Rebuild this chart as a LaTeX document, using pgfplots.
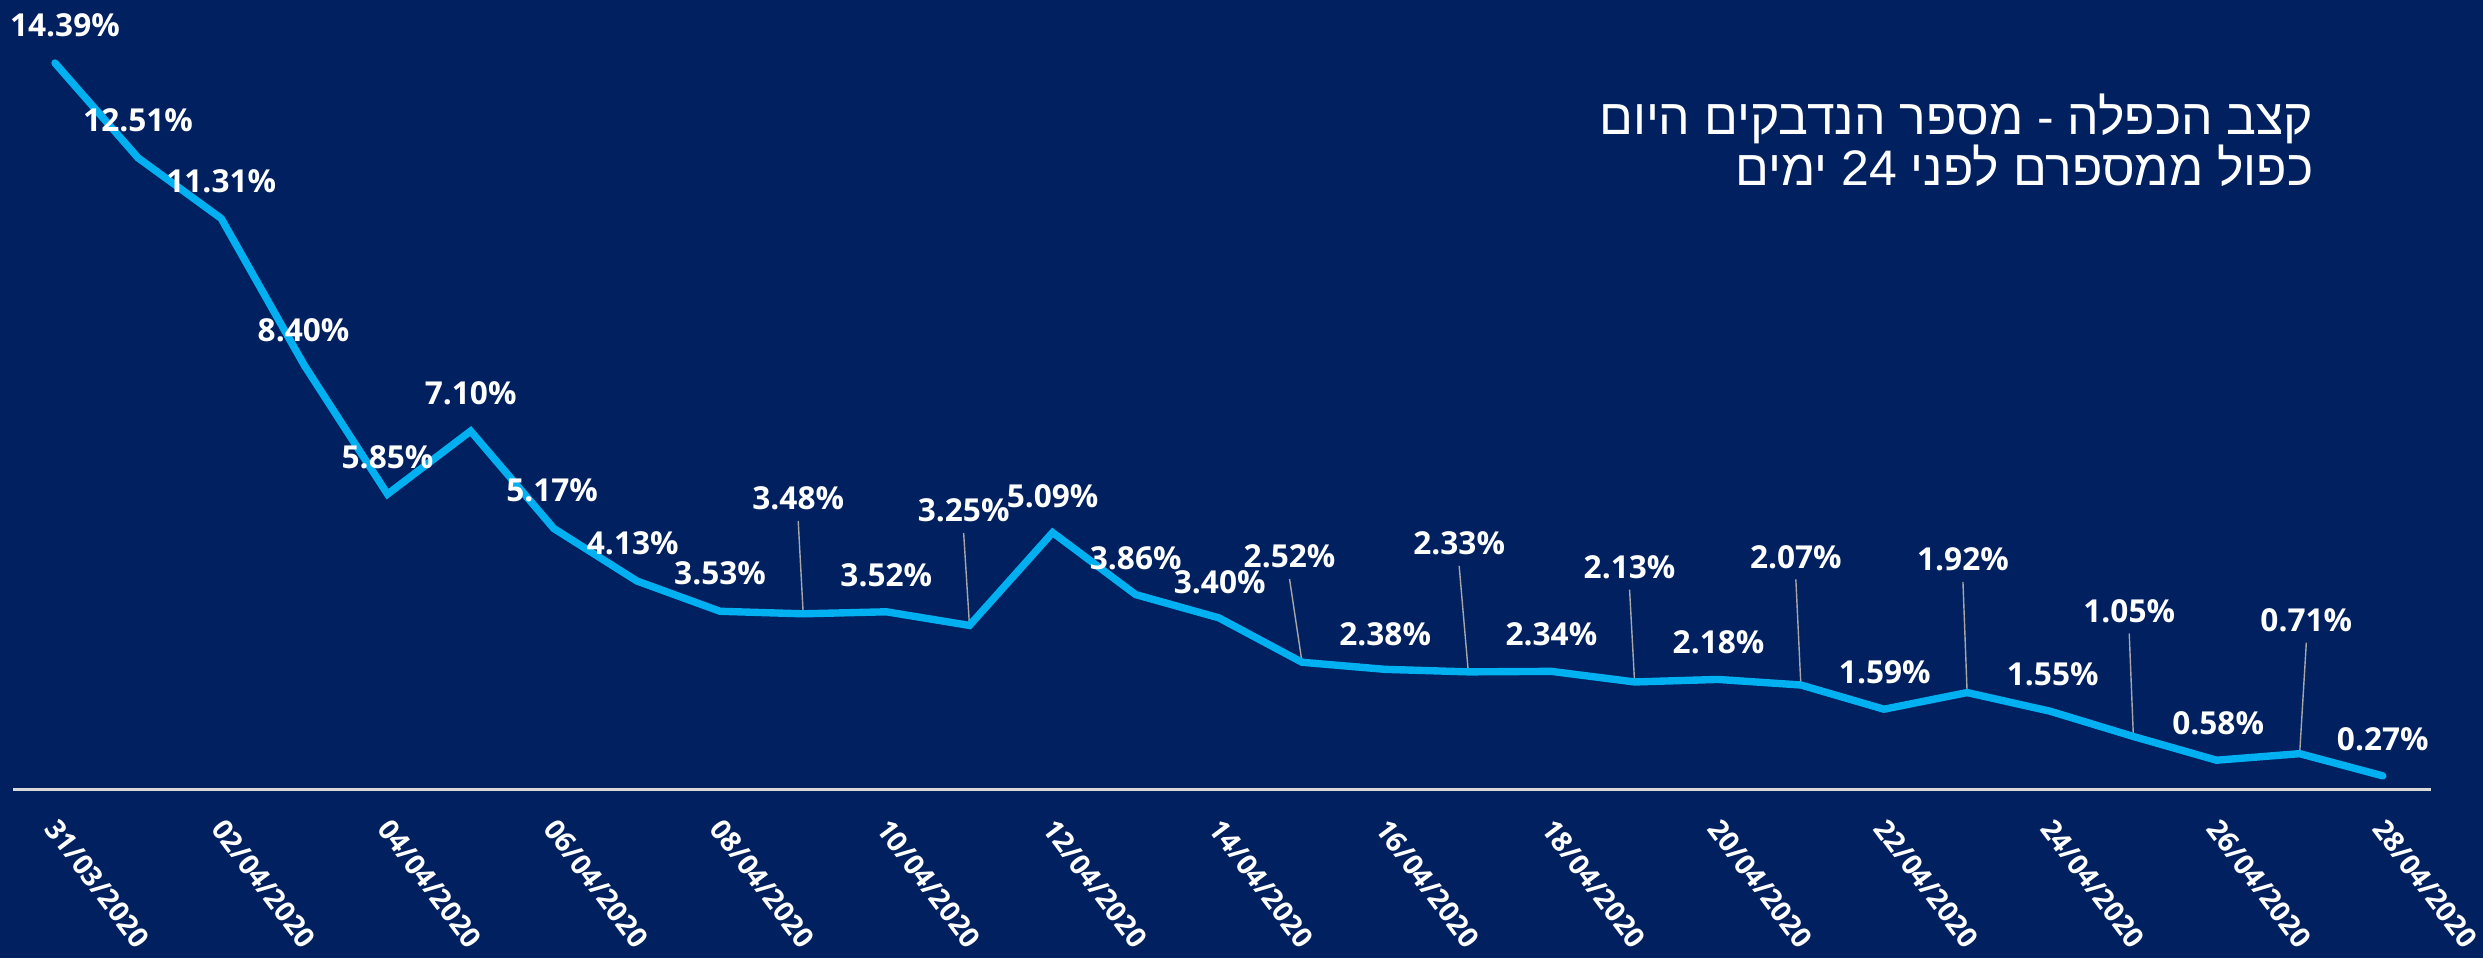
\documentclass[border=0pt]{standalone}
\usepackage{pgfplots}
\pgfplotsset{compat=1.18}
\usepackage{pgfplotstable}
\usepackage{fontspec}
\setmainfont{Open Sans}
\newfontfamily\hebfont[Script=Hebrew]{Liberation Sans}
\TeXXeTstate=1
\definecolor{navy}{HTML}{002060}
\definecolor{lineblue}{HTML}{00B0F0}
\definecolor{axisgray}{HTML}{D9D9D9}
\definecolor{leadgray}{HTML}{A6A6A6}

\pgfplotstableread{
x y lx ly
0 14.39 0.12 15.14
1 12.51 1.00 13.26
2 11.31 2.00 12.05
3 8.40 2.99 9.10
4 5.85 4.00 6.59
5 7.10 5.00 7.84
6 5.17 5.98 5.92
7 4.13 6.95 4.87
8 3.53 8.00 4.29
9 3.48 8.94 5.77
10 3.52 10.00 4.25
11 3.25 10.93 5.53
12 5.09 12.00 5.80
13 3.86 13.00 4.58
14 3.40 14.01 4.10
15 2.52 14.85 4.62
16 2.38 16.00 3.08
17 2.33 16.89 4.88
18 2.34 18.00 3.07
19 2.13 18.94 4.41
20 2.18 20.01 2.92
21 2.07 20.94 4.61
22 1.59 22.01 2.32
23 1.92 22.95 4.56
24 1.55 24.03 2.28
25 1.05 24.95 3.54
26 0.58 26.02 1.32
27 0.71 27.08 3.36
28 0.27 28.00 0.99
}\data

\pgfplotstableread{
x y lx ly
9 3.48 8.94 5.77
11 3.25 10.93 5.53
15 2.52 14.85 4.62
17 2.33 16.89 4.88
19 2.13 18.94 4.41
21 2.07 20.94 4.61
23 1.92 22.95 4.56
25 1.05 24.95 3.54
27 0.71 27.08 3.36
}\leaders

\begin{document}
\begin{tikzpicture}
\path[fill=navy, use as bounding box] (0mm,0mm) rectangle (248.3mm,95.8mm);
\begin{axis}[
  at={(1.34mm,16.85mm)}, anchor=south west,
  scale only axis, width=241.76mm, height=75.73mm,
  xmin=-0.5, xmax=28.58, ymin=0, ymax=15,
  clip=false,
  axis y line=none,
  axis x line*=bottom,
  x axis line style={-, draw=axisgray, line width=0.7pt},
  xtick={0,2,...,28},
  xticklabels={31/03/2020,02/04/2020,04/04/2020,06/04/2020,08/04/2020,10/04/2020,12/04/2020,14/04/2020,16/04/2020,18/04/2020,20/04/2020,22/04/2020,24/04/2020,26/04/2020,28/04/2020},
  major tick length=0pt,
  xticklabel style={yshift=-7.5pt, xshift=1.5pt, rotate=-53, anchor=north west, inner sep=0pt, text=white, font=\bfseries\fontsize{8}{9}\selectfont},
  ytick=\empty,
  /pgf/number format/assume math mode=true,
]
\addplot[leadgray, line width=0.4pt, -, quiver={u=\thisrow{lx}-\thisrow{x}, v=\thisrow{ly}-0.45-\thisrow{y}}] table[x=x, y=y] {\leaders};
\addplot[lineblue, line width=2.1pt, line cap=round, line join=miter] table[x=x, y=y] {\data};
\addplot[draw=none, mark=none, point meta=\thisrow{y},
  nodes near coords={\pgfmathprintnumber[fixed, fixed zerofill, precision=2]{\pgfplotspointmeta}\%},
  nodes near coords align={center},
  every node near coord/.append style={anchor=center, text=white, inner sep=0pt, font=\bfseries\fontsize{9}{10}\selectfont}]
  table[x=lx, y=ly] {\data};
\end{axis}
\node[anchor=base east, inner sep=0pt, text=white, font=\hebfont\fontsize{14.2}{16}\selectfont] at (231.4mm,82.3mm) {\beginR קצב הכפלה - מספר הנדבקים היום\endR};
\node[anchor=base east, inner sep=0pt, text=white, font=\hebfont\fontsize{14.2}{16}\selectfont] at (231.4mm,77.2mm) {\beginR כפול ממספרם לפני 24 ימים\endR};
\end{tikzpicture}
\end{document}
